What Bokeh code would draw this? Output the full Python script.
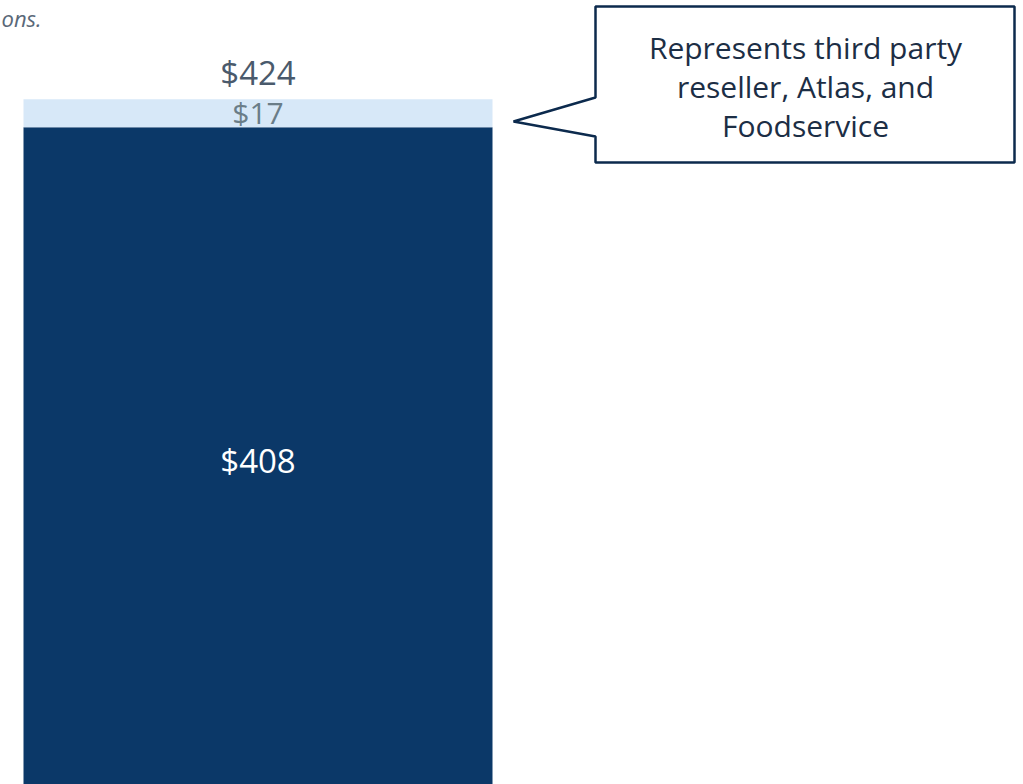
from bokeh.plotting import figure
from bokeh.models import Range1d, ColumnDataSource
from bokeh.core.properties import value
from bokeh.embed import file_html
from bokeh.resources import INLINE

# ---- data ----
categories = ["Total"]
core_values = [408]
other_values = [17]
core_labels = ["$408"]
other_labels = ["$17"]
total_labels = ["$424"]
callout_lines = ["Represents third party", "reseller, Atlas, and", "Foodservice"]
note_text = "ons."

W, H = 1023, 784
FONT = "Open Sans"

# pixel <-> data mapping (layout)
PX_PER_UNIT = 1.65
ZERO_PX = 800.0
X_LEFT_PX, X_RIGHT_PX = 23.0, 492.0
X_PX_PER_UNIT = X_RIGHT_PX - X_LEFT_PX  # bar width 1 unit
x0 = -0.5 - X_LEFT_PX / X_PX_PER_UNIT
x1 = x0 + W / X_PX_PER_UNIT
y0 = (ZERO_PX - H) / PX_PER_UNIT
y1 = ZERO_PX / PX_PER_UNIT

def px_x(px):
    return x0 + px / X_PX_PER_UNIT

def px_y(py):
    return (ZERO_PX - py) / PX_PER_UNIT

p = figure(width=W, height=H, output_backend="svg", toolbar_location=None,
           x_range=Range1d(x0, x1), y_range=Range1d(y0, y1),
           min_border=0, outline_line_color=None, background_fill_color="white",
           border_fill_color="white")
p.axis.visible = False
p.grid.visible = False

xs = list(range(len(categories)))
tops = [c + o for c, o in zip(core_values, other_values)]
src = ColumnDataSource(dict(
    x=xs, core=core_values, top=tops,
    core_mid=[c / 2 for c in core_values],
    other_mid=[c + o / 2 for c, o in zip(core_values, other_values)],
    core_lab=core_labels, other_lab=other_labels, total_lab=total_labels,
))

p.vbar(x="x", bottom=0, top="core", width=1.0, source=src,
       fill_color="#0b3868", line_color=None)
p.vbar(x="x", bottom="core", top="top", width=1.0, source=src,
       fill_color="#d7e8f8", line_color=None)

p.text(x="x", y="core_mid", text="core_lab", source=src, text_align="center",
       text_baseline="middle", text_color="white", text_font=value(FONT),
       text_font_size="33px", y_offset=-3)
p.text(x="x", y="other_mid", text="other_lab", source=src, text_align="center",
       text_baseline="middle", text_color="#6a7d88", text_font=value(FONT),
       text_font_size="30px", y_offset=-1)
p.text(x="x", y="top", text="total_lab", source=src, text_align="center",
       text_baseline="bottom", text_color="#4a5a6c", text_font=value(FONT),
       text_font_size="33px", y_offset=-4)

# callout
cx = [595, 1014, 1014, 595, 595, 513, 595]
cy = [6, 6, 162, 162, 136, 121, 97]
p.patch([px_x(v) for v in cx], [px_y(v) for v in cy], fill_color="white",
        line_color="#0c2a4d", line_width=2.5)
line_px = [47, 86, 125]
p.text(x=[px_x(805)] * 3, y=[px_y(v) for v in line_px], text=callout_lines,
       text_align="center", text_baseline="middle", text_color="#1c2e45",
       text_font=value(FONT), text_font_size="30px")

# partially visible note at top-left
p.text(x=[px_x(1)], y=[px_y(2)], text=[note_text], text_align="left",
       text_baseline="top", text_color="#5a6878", text_font=value(FONT),
       text_font_size="22px", text_font_style="italic")

open("out.html", "w").write(file_html(p, INLINE))
